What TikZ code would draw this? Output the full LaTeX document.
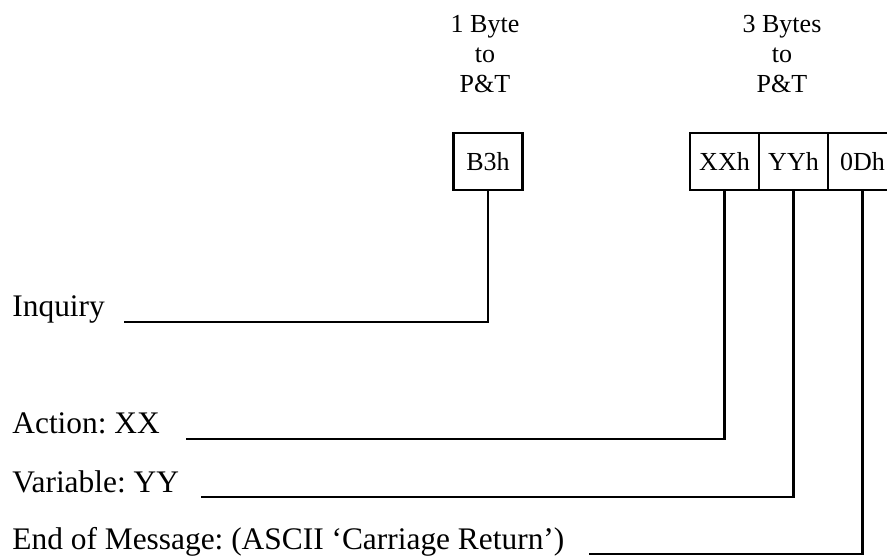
\documentclass[tikz,border=0pt]{standalone}
\usepackage{fontspec}
\setmainfont{Liberation Serif}
\usetikzlibrary{positioning}
\frenchspacing

\begin{document}
\begin{tikzpicture}[x=0.5pt,y=-0.5pt,
  bytebox/.style={draw,line width=1.3pt,inner sep=0pt,outer sep=0pt,
    minimum width=34.5pt,minimum height=28.5pt,font=\fontsize{13}{15}\selectfont},
  head/.style={align=center,anchor=north,inner sep=0pt,font=\fontsize{13}{15}\selectfont},
  lbl/.style={anchor=base west,inner sep=0pt,font=\fontsize{15.7}{18}\selectfont},
  wire/.style={line width=1.3pt}]
  \useasboundingbox (0,0) rectangle (887,556);

  \node[head] (one) at (485,14.5) {1 Byte\\to\\P\&T};
  \node[head] (three) at (782,14.5) {3 Bytes\\to\\P\&T};

  \node[bytebox] (b3h) at (488,161.5) {B3h};
  \node[bytebox] (xxh) at (724.5,161.5) {XXh};
  \node[bytebox,right=0pt of xxh] (yyh) {YYh};
  \node[bytebox,right=0pt of yyh] (odh) {0Dh};

  \node[lbl] (inq) at (12,316) {Inquiry};
  \node[lbl] (act) at (12,433) {Action: XX};
  \node[lbl] (var) at (12,492) {Variable: YY};
  \node[lbl] (eom) at (12,549) {End of Message: (ASCII `Carriage Return')};

  \coordinate (inqEnd) at (124,322);
  \coordinate (actEnd) at (186,439);
  \coordinate (varEnd) at (201,497);
  \coordinate (eomEnd) at (589,554);

  \draw[wire] (b3h.south) |- (inqEnd);
  \draw[wire] (xxh.south) |- (actEnd);
  \draw[wire] (yyh.south) |- (varEnd);
  \draw[wire] (odh.south) |- (eomEnd);
\end{tikzpicture}
\end{document}
